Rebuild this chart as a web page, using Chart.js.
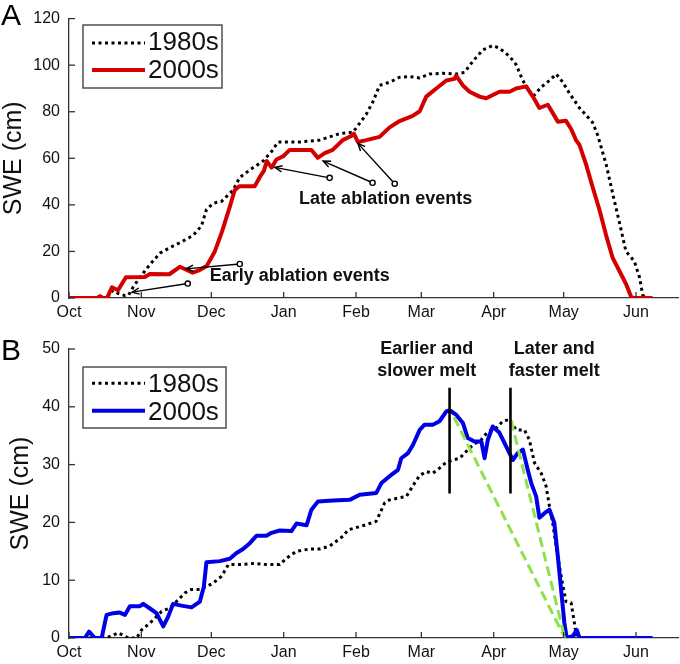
<!DOCTYPE html>
<html>
<head>
<meta charset="utf-8">
<script src="https://cdn.jsdelivr.net/npm/chart.js@4.4.1/dist/chart.umd.min.js"></script>
<style>
  html, body { margin: 0; padding: 0; background: #fff; }
  #wrap { position: relative; width: 680px; height: 664px; }
  canvas { position: absolute; left: 0; }
  #chartA { top: 0; }
  #chartB { top: 330px; }
</style>
</head>
<body>
<div id="wrap">
  <canvas id="chartA" width="680" height="330"></canvas>
  <canvas id="chartB" width="680" height="334"></canvas>
</div>
<script>
// x values are days since Oct 1, y values are SWE in cm
const monthLabels = ['Oct', 'Nov', 'Dec', 'Jan', 'Feb', 'Mar', 'Apr', 'May', 'Jun'];
const monthStarts = [0, 31, 61, 92, 123, 151, 182, 212, 243];
const seasonEnd = 261;

// Panel A
const a1980Days = [0, 16.3, 18.8, 21, 24, 25.5, 27.5, 30.4, 34.7, 39, 43.2, 48.2, 53.2, 56.8, 58.9, 61.8, 65.4, 70.3, 73.2, 78.9,
  83.2, 86.8, 89.6, 98.9, 107.4, 116, 121.7, 123.8, 127.4, 130.3, 133.1, 137.4, 141.7, 146, 150.3, 154.5, 160.2, 166, 169.5, 173.1,
  177.4, 181.6, 184.5, 188.8, 191.6, 194.5, 198.8, 202.4, 205.9, 208.8, 211.6, 214.5, 218.8, 224.4, 226.6, 230.2, 233, 235.9, 238.7, 242.3,
  244.5, 245.9, 247.3];
const a1980Swe = [0, 0, 3.3, 2, 1, 1.2, 4.7, 8.9, 14.4, 19.3, 21.6, 24.1, 26.9, 31, 38, 40.7, 41.5, 46.3, 51.8, 56,
  58.8, 62.9, 67, 67, 67.8, 70.6, 71.2, 74, 78.9, 84.4, 91.3, 92.7, 94.8, 95.1, 94.5, 96.2, 96.5, 96.2, 96.9, 101.7,
  106.6, 108.4, 107.3, 103.8, 100.3, 93.4, 86.5, 90.6, 93.4, 96.2, 92.7, 87.9, 81.6, 75.4, 69.9, 57.4, 44.9, 32.4, 20, 15.8,
  8.9, 1.2, 0];
const a2000Days = [0, 12, 13.3, 14.5, 16.3, 18.4, 21, 24.4, 32.5, 34.7, 43, 47.5, 53, 56, 59, 62.5, 65.5, 69, 71, 73,
  79.6, 81.8, 83.5, 84.8, 86.8, 88.9, 91.7, 94.6, 103.9, 106.6, 109.6, 113, 117.3, 121.6, 122.1, 123.8, 127.4, 133.1, 137.4, 141.7,
  147.3, 150.3, 153.1, 157.4, 161.7, 165.2, 165.9, 168.8, 171.7, 175.9, 178.8, 184.5, 188.8, 191.6, 195.9, 198.8, 201.6, 205.2, 207.3, 209.5,
  213, 215.2, 217.3, 218.8, 221.6, 224.4, 227.3, 230.2, 233, 235.9, 238.7, 240.9, 242, 250.1];
const a2000Swe = [0, 0, 0.8, 0, 0, 4.6, 3.3, 8.9, 9, 10.3, 10.2, 13.4, 10.9, 12, 13.7, 20, 28.3, 39.5, 46.3, 48,
  48, 52, 54.6, 58.8, 56, 59.5, 60.8, 63.6, 63.6, 60.2, 62.2, 63.6, 67.8, 69.9, 70.6, 67, 67.8, 69.2, 73.3, 76,
  78.2, 80.2, 86.5, 90, 93.4, 94.1, 95.5, 91.3, 88.6, 86.5, 85.8, 88.6, 88.6, 90, 90.9, 86.5, 81.6, 83, 79.5, 75.7,
  76.1, 72.6, 67.8, 65.7, 57.4, 47.7, 38, 26.9, 17.2, 11.6, 6.1, 0.5, 0, 0];

// Panel B
const b1980Days = [0, 16.1, 21.1, 25.4, 29, 31.1, 34.7, 37.5, 39.7, 43.2, 46.8, 49.7, 52.5, 56.1, 58.9, 61.8, 65.4, 68.3, 73.2, 78.9,
  84.6, 90.3, 93.2, 97.5, 103.2, 107.4, 111.7, 117.4, 119.6, 127.4, 131.7, 135.3, 137.4, 144.6, 148.1, 150.3, 153.1, 155.9, 158.8, 161.7,
  164.5, 167.4, 170.3, 173.1, 176.7, 179.5, 183.1, 185.9, 188.8, 191.6, 195.2, 197.3, 199.5, 202.4, 204.5, 205.9, 207.3, 208.8, 210.9, 213,
  215.2, 216.6, 217.4];
const b1980Swe = [0, 0, 0.9, 0, 0, 1.4, 2.6, 3.7, 4.6, 5.2, 6.6, 7.8, 8.4, 8.4, 8.9, 9.5, 10.7, 12.7, 12.7, 12.9,
  12.7, 12.7, 13.8, 15, 15.4, 15.4, 15.9, 17.6, 18.7, 19.6, 20.2, 23.4, 23.9, 24.5, 26.8, 28.1, 28.8, 28.5, 29.4, 30.4,
  30.8, 31.1, 32.3, 33.4, 34.3, 35.7, 36.3, 37.5, 37.8, 36, 36, 34.3, 30.3, 28.5, 26.2, 22.8, 19.9, 15.8, 10.7, 6.3,
  6.1, 2.6, 0.3];
const b2000Days = [0, 6.8, 8.6, 11.1, 14, 16.1, 19, 21.8, 24, 26.1, 30.4, 31.8, 34.7, 37.5, 40.4, 42.5, 44.6, 48.2, 52.5, 56.1,
  57.8, 58.9, 64.6, 68.9, 71.8, 74.6, 77.5, 80.4, 84.6, 86.8, 90.3, 95.3, 97.5, 101.8, 103.9, 106.7, 113.1, 120.3, 124.6, 131.7,
  133.9, 137.4, 141, 142.4, 145.3, 147.4, 150.3, 152.4, 155.9, 158.8, 161.7, 163.1, 166, 168.8, 170.9, 173.8, 176.7, 178.1, 179.5, 181.6,
  184.5, 187.4, 190.2, 192.3, 194.5, 196.6, 198.1, 200.2, 201.6, 203.8, 205.9, 208, 209.5, 210.9, 212.3, 213.3, 215.9, 217.6, 218.8, 250.1];
const b2000Swe = [0, 0, 1.1, 0, 0, 4, 4.3, 4.4, 4, 5.5, 5.5, 5.9, 5.1, 4.3, 2, 3.7, 5.9, 5.6, 5.3, 6.3,
  8.9, 13.1, 13.3, 13.7, 14.7, 15.4, 16.4, 17.7, 17.7, 18.2, 18.6, 18.5, 19.8, 19.5, 22.2, 23.6, 23.8, 23.9, 24.8, 25.1,
  26.8, 28, 29.1, 31.1, 32, 33.4, 36, 36.9, 36.9, 37.5, 39.2, 39.4, 38.6, 37.2, 34.6, 34, 34, 31.1, 34.3, 36.6,
  35.5, 33.1, 30.8, 32, 32.6, 29.1, 26.8, 24.5, 20.8, 21.6, 22.2, 19.9, 14.1, 8.4, 2.6, 0, 0.3, 1.4, 0, 0];

// melt markers in panel B (peak lines and melt-rate guides)
const meltMarkDays = [163.1, 189.2];
const meltMarkRange = [25, 43.3];
const slowMeltDays = [165, 212.5];
const slowMeltSwe = [38.2, 0];
const fastMeltDays = [189.5, 212.5];
const fastMeltSwe = [37.6, 0];

// annotation arrows in panel A: [tailDay, tailSwe, headDay, headSwe]
const ablationArrows = [
  [73.2, 14.6, 50.1, 12.5],
  [50.9, 6.2, 27, 2.5],
  [111.7, 51.6, 88.2, 56.1],
  [130.1, 49.5, 108.9, 58.8],
  [139.6, 49.1, 123.8, 66.4]
];
const notesA = [
  { lines: ['Early ablation events'], day: 98.9, swe: 7.5 },
  { lines: ['Late ablation events'], day: 135.7, swe: 40.3 }
];
const notesB = [
  { lines: ['Earlier and', 'slower melt'], day: 153.3, swe: 49.1 },
  { lines: ['Later and', 'faster melt'], day: 208, swe: 49.1 }
];

const axisColor = '#333';
const textColor = '#111';
const red = '#d40000';
const blue = '#0000e6';
const green = '#8ee04c';

Chart.defaults.font.family = "'Liberation Sans', Arial, Helvetica, sans-serif";

function pts(xs, ys) {
  return xs.map((x, i) => ({ x: x, y: ys[i] }));
}

function drawArrow(ctx, x1, y1, x2, y2) {
  const ang = Math.atan2(y2 - y1, x2 - x1);
  ctx.beginPath();
  ctx.moveTo(x1, y1);
  ctx.lineTo(x2, y2);
  ctx.stroke();
  ctx.beginPath();
  ctx.moveTo(x2 - 8 * Math.cos(ang - 0.4), y2 - 8 * Math.sin(ang - 0.4));
  ctx.lineTo(x2, y2);
  ctx.lineTo(x2 - 8 * Math.cos(ang + 0.4), y2 - 8 * Math.sin(ang + 0.4));
  ctx.stroke();
  ctx.beginPath();
  ctx.arc(x1, y1, 2.6, 0, 2 * Math.PI);
  ctx.fillStyle = '#fff';
  ctx.fill();
  ctx.stroke();
}

// ticks inside the axes, legend box, panel letter and text notes
function decorations(cfg) {
  return {
    id: 'decorations',
    afterDraw(chart) {
      const ctx = chart.ctx;
      const xs = chart.scales.x, ys = chart.scales.y;
      const area = chart.chartArea;
      ctx.save();

      ctx.strokeStyle = axisColor;
      ctx.lineWidth = 1.3;
      xs.ticks.forEach(t => {
        const px = xs.getPixelForValue(t.value);
        ctx.beginPath(); ctx.moveTo(px, area.bottom); ctx.lineTo(px, area.bottom - 6); ctx.stroke();
      });
      ys.ticks.forEach(t => {
        const py = ys.getPixelForValue(t.value);
        ctx.beginPath(); ctx.moveTo(area.left, py); ctx.lineTo(area.left + 6, py); ctx.stroke();
      });

      // legend
      const lg = cfg.legend;
      ctx.lineWidth = 1.4;
      ctx.strokeStyle = '#444';
      ctx.fillStyle = '#fff';
      ctx.fillRect(lg.x, lg.y, lg.w, lg.h);
      ctx.strokeRect(lg.x, lg.y, lg.w, lg.h);
      ctx.font = '26px ' + Chart.defaults.font.family;
      ctx.textAlign = 'left';
      ctx.textBaseline = 'alphabetic';
      lg.rows.forEach(r => {
        ctx.save();
        ctx.strokeStyle = r.color;
        ctx.lineWidth = r.width;
        ctx.setLineDash(r.dash);
        ctx.beginPath(); ctx.moveTo(92, r.lineY); ctx.lineTo(145, r.lineY); ctx.stroke();
        ctx.restore();
        ctx.fillStyle = textColor;
        ctx.fillText(r.label, 148, r.baseY);
      });

      // panel letter
      ctx.font = '30px ' + Chart.defaults.font.family;
      ctx.fillStyle = '#000';
      ctx.fillText(cfg.letter, 1, cfg.letterY);

      // arrows
      ctx.strokeStyle = '#000';
      ctx.lineWidth = 1.4;
      (cfg.arrows || []).forEach(a => {
        drawArrow(ctx, xs.getPixelForValue(a[0]), ys.getPixelForValue(a[1]),
          xs.getPixelForValue(a[2]), ys.getPixelForValue(a[3]));
      });

      // notes
      ctx.font = 'bold 18px ' + Chart.defaults.font.family;
      ctx.fillStyle = textColor;
      ctx.textAlign = 'center';
      cfg.notes.forEach(n => {
        const px = xs.getPixelForValue(n.day);
        const py = ys.getPixelForValue(n.swe);
        n.lines.forEach((line, i) => ctx.fillText(line, px, py + i * 21.5));
      });
      ctx.restore();
    }
  };
}

function makeChart(id, cfg) {
  return new Chart(document.getElementById(id), {
    type: 'line',
    data: { datasets: cfg.datasets },
    options: {
      responsive: false,
      animation: false,
      events: [],
      layout: { padding: { top: cfg.top, right: 2, left: 0, bottom: 0 } },
      elements: {
        point: { radius: 0 },
        line: { tension: 0, borderJoinStyle: 'round', fill: false }
      },
      plugins: { legend: { display: false }, tooltip: { enabled: false } },
      scales: {
        x: {
          type: 'linear',
          min: 0,
          max: seasonEnd,
          afterBuildTicks: s => { s.ticks = monthStarts.map(v => ({ value: v })); },
          afterFit: s => { s.height = cfg.xHeight; },
          grid: { drawOnChartArea: false, drawTicks: false },
          border: { color: axisColor, width: 1.3 },
          ticks: {
            padding: 5,
            color: textColor,
            font: { size: 16 },
            maxRotation: 0,
            autoSkip: false,
            callback: (v, i) => monthLabels[i]
          }
        },
        y: {
          min: 0,
          max: cfg.yMax,
          afterFit: s => { s.width = 69; },
          grid: { drawOnChartArea: false, drawTicks: false },
          border: { color: axisColor, width: 1.3 },
          ticks: { stepSize: cfg.yStep, padding: 9, color: textColor, font: { size: 16 } },
          title: {
            display: true,
            text: 'SWE (cm)',
            color: textColor,
            font: { size: 25 },
            padding: { top: cfg.titlePad, bottom: 0 }
          }
        }
      }
    },
    plugins: [decorations(cfg)]
  });
}

const dotted = { borderColor: '#000', borderWidth: 3, borderDash: [3, 3.5], borderCapStyle: 'butt' };

makeChart('chartA', {
  top: 8, xHeight: 32, yMax: 120, yStep: 20, titlePad: -1,
  letter: 'A', letterY: 25,
  arrows: ablationArrows,
  notes: notesA,
  legend: {
    x: 83, y: 25, w: 139, h: 63,
    rows: [
      { label: '1980s', color: '#000', width: 3, dash: [3, 3.5], lineY: 43, baseY: 50 },
      { label: '2000s', color: red, width: 4, dash: [], lineY: 70, baseY: 78 }
    ]
  },
  datasets: [
    { label: '2000s', data: pts(a2000Days, a2000Swe), borderColor: red, borderWidth: 4, order: 1 },
    Object.assign({ label: '1980s', data: pts(a1980Days, a1980Swe), order: 2 }, dotted)
  ]
});

makeChart('chartB', {
  top: 19, xHeight: 26, yMax: 50, yStep: 10, titlePad: 6,
  letter: 'B', letterY: 30,
  notes: notesB,
  legend: {
    x: 83, y: 37, w: 143, h: 61,
    rows: [
      { label: '1980s', color: '#000', width: 3, dash: [3, 3.5], lineY: 53.3, baseY: 61.7 },
      { label: '2000s', color: blue, width: 4, dash: [], lineY: 80.7, baseY: 90 }
    ]
  },
  datasets: [
    { label: 'peak 2000s', data: pts([meltMarkDays[0], meltMarkDays[0]], meltMarkRange), borderColor: '#000', borderWidth: 2.6, order: 0 },
    { label: 'peak 1980s', data: pts([meltMarkDays[1], meltMarkDays[1]], meltMarkRange), borderColor: '#000', borderWidth: 2.6, order: 0 },
    { label: 'slow melt', data: pts(slowMeltDays, slowMeltSwe), borderColor: green, borderWidth: 3, borderDash: [10, 5], order: 1 },
    { label: 'fast melt', data: pts(fastMeltDays, fastMeltSwe), borderColor: green, borderWidth: 3, borderDash: [10, 5], order: 1 },
    { label: '2000s', data: pts(b2000Days, b2000Swe), borderColor: blue, borderWidth: 4, order: 2 },
    Object.assign({ label: '1980s', data: pts(b1980Days, b1980Swe), order: 3 }, dotted)
  ]
});
</script>
</body>
</html>
